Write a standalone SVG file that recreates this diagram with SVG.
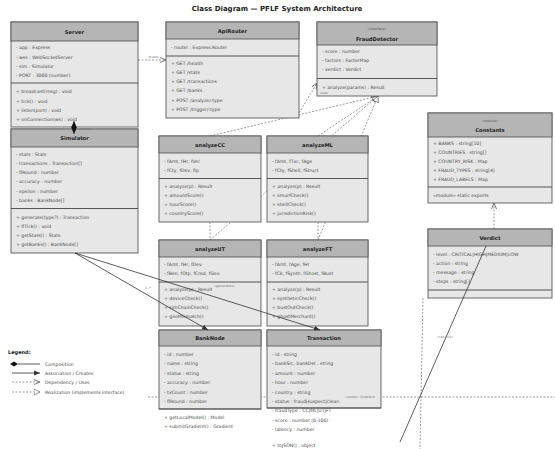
<svg xmlns="http://www.w3.org/2000/svg" width="555" height="449" viewBox="0 0 555 449">
<style>
.b{fill:#e7e7e7;stroke:#5a5a5a;stroke-width:0.9}
.h{fill:#b5b5b5;stroke:#5a5a5a;stroke-width:0.9}
.d{stroke:#555;stroke-width:1.1}
.m{font-family:"DejaVu Sans",sans-serif;font-size:4.6px;fill:#4a4a4a}
.t{font-family:"DejaVu Sans",sans-serif;font-size:5.2px;font-weight:bold;fill:#222;text-anchor:middle}
.s{font-family:"DejaVu Sans",sans-serif;font-size:3.4px;fill:#555;text-anchor:middle}
.lbl{font-family:"DejaVu Sans",sans-serif;font-size:3.4px;fill:#777}
.sol{stroke:#333;stroke-width:0.8;fill:none}
.dash{stroke:#555;stroke-width:0.6;stroke-dasharray:2,1.5;fill:none}
.ttl{font-family:"DejaVu Sans",sans-serif;font-size:7px;font-weight:bold;fill:#222;text-anchor:middle}
</style>
<defs>
<marker id="arr" markerUnits="userSpaceOnUse" markerWidth="6" markerHeight="6" refX="6" refY="3" orient="auto"><path d="M0,0.5 L6,3 L0,5.5 z" fill="#333"/></marker>
<marker id="open" markerUnits="userSpaceOnUse" markerWidth="6" markerHeight="6" refX="6" refY="3" orient="auto"><path d="M0,0.5 L6,3 L0,5.5" fill="none" stroke="#444" stroke-width="0.7"/></marker>
<marker id="tri" markerUnits="userSpaceOnUse" markerWidth="7" markerHeight="7" refX="6.5" refY="3.5" orient="auto"><path d="M0.5,0.5 L6.5,3.5 L0.5,6.5 z" fill="#fff" stroke="#444" stroke-width="0.6"/></marker>
</defs>
<rect width="555" height="449" fill="#fff"/>
<text class="ttl" x="277" y="11">Class Diagram — PFLF System Architecture</text>

<g id="connectors-under">
<line class="dash" x1="138" y1="60" x2="166" y2="60" marker-end="url(#open)"/>
<line class="dash" x1="299" y1="113" x2="317" y2="83" marker-end="url(#open)"/>
<line class="dash" x1="210" y1="136" x2="378" y2="96" marker-end="url(#tri)"/>
<line class="dash" x1="318" y1="136" x2="378" y2="96" marker-end="url(#tri)"/>
<line class="dash" x1="210" y1="240" x2="378" y2="96" marker-end="url(#tri)"/>
<line class="dash" x1="318" y1="240" x2="378" y2="96" marker-end="url(#tri)"/>
<line class="dash" x1="210" y1="222" x2="210" y2="240"/>
<line class="dash" x1="318" y1="222" x2="318" y2="240"/>
<line class="dash" x1="494" y1="229" x2="494" y2="203" marker-end="url(#open)"/>
<line class="dash" x1="148" y1="397" x2="555" y2="397"/>
<line class="dash" x1="423" y1="298" x2="420" y2="449"/>
</g>

<g id="Server">
<rect class="b" x="11" y="22" width="127" height="105"/>
<rect class="h" x="11" y="22" width="127" height="19"/>
<text class="t" x="74.5" y="33.5">Server</text>
<line class="d" x1="11" y1="83" x2="138" y2="83"/>
<text class="m" x="16" y="49">- app : Express</text>
<text class="m" x="16" y="58.5">- wss : WebSocketServer</text>
<text class="m" x="16" y="67.5">- sim : Simulator</text>
<text class="m" x="16" y="77">- PORT : 3000 (number)</text>
<text class="m" x="16" y="93">+ broadcast(msg) : void</text>
<text class="m" x="16" y="102.5">+ tick() : void</text>
<text class="m" x="16" y="111.5">+ listen(port) : void</text>
<text class="m" x="16" y="121">+ onConnection(ws) : void</text>
</g>

<g id="Simulator">
<rect class="b" x="11" y="129" width="127" height="124"/>
<rect class="h" x="11" y="129" width="127" height="18"/>
<text class="t" x="74.5" y="140">Simulator</text>
<line class="d" x1="11" y1="208.5" x2="138" y2="208.5"/>
<text class="m" x="16" y="155.5">- stats : Stats</text>
<text class="m" x="16" y="164.5">- transactions : Transaction[]</text>
<text class="m" x="16" y="174">- flRound : number</text>
<text class="m" x="16" y="183">- accuracy : number</text>
<text class="m" x="16" y="192.5">- epsilon : number</text>
<text class="m" x="16" y="201.5">- banks : BankNode[]</text>
<text class="m" x="16" y="218.5">+ generate(type?) : Transaction</text>
<text class="m" x="16" y="227.5">+ flTick() : void</text>
<text class="m" x="16" y="237">+ getStats() : Stats</text>
<text class="m" x="16" y="246">+ getBanks() : BankNode[]</text>
</g>

<g id="ApiRouter">
<rect class="b" x="166" y="22" width="133" height="96"/>
<rect class="h" x="166" y="22" width="133" height="17"/>
<text class="t" x="232.5" y="32.5">ApiRouter</text>
<line class="d" x1="166" y1="56" x2="299" y2="56"/>
<text class="m" x="171" y="48.5">- router : Express.Router</text>
<text class="m" x="171" y="64.5">+ GET /health</text>
<text class="m" x="171" y="73.5">+ GET /stats</text>
<text class="m" x="171" y="82.5">+ GET /transactions</text>
<text class="m" x="171" y="92">+ GET /banks</text>
<text class="m" x="171" y="101.5">+ POST /analyze/:type</text>
<text class="m" x="171" y="110.5">+ POST /trigger/:type</text>
</g>

<g id="FraudDetector">
<rect class="b" x="317" y="22" width="120" height="74"/>
<rect class="h" x="317" y="22" width="120" height="23"/>
<text class="s" x="377" y="30">«interface»</text>
<text class="t" x="377" y="40.5">FraudDetector</text>
<line class="d" x1="317" y1="78.5" x2="437" y2="78.5"/>
<text class="m" x="322" y="53">- score : number</text>
<text class="m" x="322" y="62">- factors : FactorMap</text>
<text class="m" x="322" y="71">- verdict : Verdict</text>
<text class="m" x="322" y="88.5">+ analyze(params) : Result</text>
</g>

<g id="Constants">
<rect class="b" x="428" y="113" width="124" height="90"/>
<rect class="h" x="428" y="113" width="124" height="24"/>
<text class="s" x="490" y="122">«module»</text>
<text class="t" x="490" y="132">Constants</text>
<line class="d" x1="428" y1="187" x2="552" y2="187"/>
<text class="m" x="433" y="145">+ BANKS : string[10]</text>
<text class="m" x="433" y="154">+ COUNTRIES : string[]</text>
<text class="m" x="433" y="163">+ COUNTRY_RISK : Map</text>
<text class="m" x="433" y="172">+ FRAUD_TYPES : string[4]</text>
<text class="m" x="433" y="181">+ FRAUD_LABELS : Map</text>
<text class="m" x="433" y="197">«module» static exports</text>
</g>

<g id="Verdict">
<rect class="b" x="428" y="229" width="124" height="69"/>
<rect class="h" x="428" y="229" width="124" height="17"/>
<text class="t" x="490" y="239.5">Verdict</text>
<line class="d" x1="428" y1="290" x2="552" y2="290"/>
<text class="m" x="433" y="256">- level : CRITICAL|HIGH|MEDIUM|LOW</text>
<text class="m" x="433" y="265">- action : string</text>
<text class="m" x="433" y="274">- message : string</text>
<text class="m" x="433" y="283">- steps : string[]</text>
</g>

<g id="analyzeCC">
<rect class="b" x="159" y="136" width="102" height="86"/>
<rect class="h" x="159" y="136" width="102" height="17"/>
<text class="t" x="210" y="146.5">analyzeCC</text>
<line class="d" x1="159" y1="178.5" x2="261" y2="178.5"/>
<text class="m" x="164" y="162.5">- fAmt, fHr, fVel</text>
<text class="m" x="164" y="171.5">- fCty, fDev, fIp</text>
<text class="m" x="164" y="187.5">+ analyze(p) : Result</text>
<text class="m" x="164" y="196.5">+ amountScore()</text>
<text class="m" x="164" y="205.5">+ hourScore()</text>
<text class="m" x="164" y="214.5">+ countryScore()</text>
</g>

<g id="analyzeML">
<rect class="b" x="267" y="136" width="101" height="86"/>
<rect class="h" x="267" y="136" width="101" height="17"/>
<text class="t" x="317.5" y="146.5">analyzeML</text>
<line class="d" x1="267" y1="178.5" x2="368" y2="178.5"/>
<text class="m" x="272" y="162.5">- fAmt, fTxc, fAge</text>
<text class="m" x="272" y="171.5">- fCty, fShell, fStruct</text>
<text class="m" x="272" y="187.5">+ analyze(p) : Result</text>
<text class="m" x="272" y="196.5">+ smurfCheck()</text>
<text class="m" x="272" y="205.5">+ shellCheck()</text>
<text class="m" x="272" y="214.5">+ jurisdictionRisk()</text>
</g>

<g id="analyzeUT">
<rect class="b" x="159" y="240" width="102" height="86"/>
<rect class="h" x="159" y="240" width="102" height="17"/>
<text class="t" x="210" y="250.5">analyzeUT</text>
<line class="d" x1="159" y1="282" x2="261" y2="282"/>
<text class="m" x="164" y="266">- fAmt, fHr, fDev</text>
<text class="m" x="164" y="275">- fBen, fOtp, fCred, fGeo</text>
<text class="m" x="164" y="291">+ analyze(p) : Result</text>
<text class="m" x="164" y="300">+ deviceCheck()</text>
<text class="m" x="164" y="309">+ simChainCheck()</text>
<text class="m" x="164" y="318">+ geoMismatch()</text>
</g>

<g id="analyzeFT">
<rect class="b" x="267" y="240" width="101" height="86"/>
<rect class="h" x="267" y="240" width="101" height="17"/>
<text class="t" x="317.5" y="250.5">analyzeFT</text>
<line class="d" x1="267" y1="282" x2="368" y2="282"/>
<text class="m" x="272" y="266">- fAmt, fAge, fHr</text>
<text class="m" x="272" y="275">- fCk, fSynth, fGhost, fBust</text>
<text class="m" x="272" y="291">+ analyze(p) : Result</text>
<text class="m" x="272" y="300">+ syntheticCheck()</text>
<text class="m" x="272" y="309">+ bustOutCheck()</text>
<text class="m" x="272" y="318">+ ghostMerchant()</text>
</g>

<g id="BankNode">
<rect class="b" x="159" y="330" width="102" height="79"/>
<rect class="h" x="159" y="330" width="102" height="16"/>
<text class="t" x="210" y="340">BankNode</text>
<line class="d" x1="159" y1="409" x2="261" y2="409"/>
<text class="m" x="164" y="355.5">- id : number</text>
<text class="m" x="164" y="365">- name : string</text>
<text class="m" x="164" y="374.5">- status : string</text>
<text class="m" x="164" y="384">- accuracy : number</text>
<text class="m" x="164" y="393.5">- txCount : number</text>
<text class="m" x="164" y="403">- flRound : number</text>
<text class="m" x="164" y="418.5">+ getLocalModel() : Model</text>
<text class="m" x="164" y="427.5">+ submitGradient() : Gradient</text>
</g>

<g id="Transaction">
<rect class="b" x="267" y="330" width="114" height="78"/>
<rect class="h" x="267" y="330" width="114" height="16"/>
<text class="t" x="324" y="340">Transaction</text>
<line class="d" x1="267" y1="408" x2="381" y2="408"/>
<text class="m" x="272" y="355.5">- id : string</text>
<text class="m" x="272" y="365">- bankSrc, bankDst : string</text>
<text class="m" x="272" y="374.5">- amount : number</text>
<text class="m" x="272" y="384">- hour : number</text>
<text class="m" x="272" y="393.5">- country : string</text>
<text class="m" x="272" y="403">- status : fraud|suspect|clean</text>
<text class="m" x="272" y="412">- fraudType : CC|ML|UT|FT</text>
<text class="m" x="272" y="421.5">- score : number (0-100)</text>
<text class="m" x="272" y="430.5">- latency : number</text>
<text class="m" x="272" y="446.5">+ toJSON() : object</text>
</g>

<g id="connectors-over">
<line class="sol" x1="74" y1="134" x2="74" y2="121"/>
<path d="M74,121 L76.8,127.5 L74,134 L71.2,127.5 z" fill="#111"/>
<text class="lbl" x="79" y="129.5">creates</text>
<text class="lbl" x="148" y="58">routes</text>
<text class="lbl" x="320" y="94">uses</text>
<line class="sol" x1="75" y1="253" x2="208" y2="330" marker-end="url(#arr)"/>
<line class="sol" x1="75" y1="253" x2="320" y2="330" marker-end="url(#arr)"/>
<text class="lbl" x="145" y="289">1..*</text>
<text class="lbl" x="214" y="287">«generates»</text>
<line class="sol" x1="400" y1="442" x2="486" y2="246"/>
<text class="lbl" x="345" y="398">«sends» Gradient</text>
<text class="lbl" x="437" y="338">«returns»</text>
</g>

<g id="legend">
<text x="8" y="354" font-family="DejaVu Sans, sans-serif" font-size="5px" font-weight="bold" fill="#222">Legend:</text>
<path d="M10,364 L14,361.5 L18,364 L14,366.5 z" fill="#111"/>
<line class="sol" x1="18" y1="364" x2="40" y2="364"/>
<text class="m" x="45" y="365.5">Composition</text>
<line class="sol" x1="12" y1="373" x2="40" y2="373" marker-end="url(#arr)"/>
<text class="m" x="45" y="374.5">Association / Creates</text>
<line class="dash" x1="12" y1="382" x2="40" y2="382" marker-end="url(#open)"/>
<text class="m" x="45" y="383.5">Dependency / Uses</text>
<line class="dash" x1="12" y1="392" x2="40" y2="392" marker-end="url(#tri)"/>
<text class="m" x="45" y="393.5">Realization (implements interface)</text>
</g>
</svg>
